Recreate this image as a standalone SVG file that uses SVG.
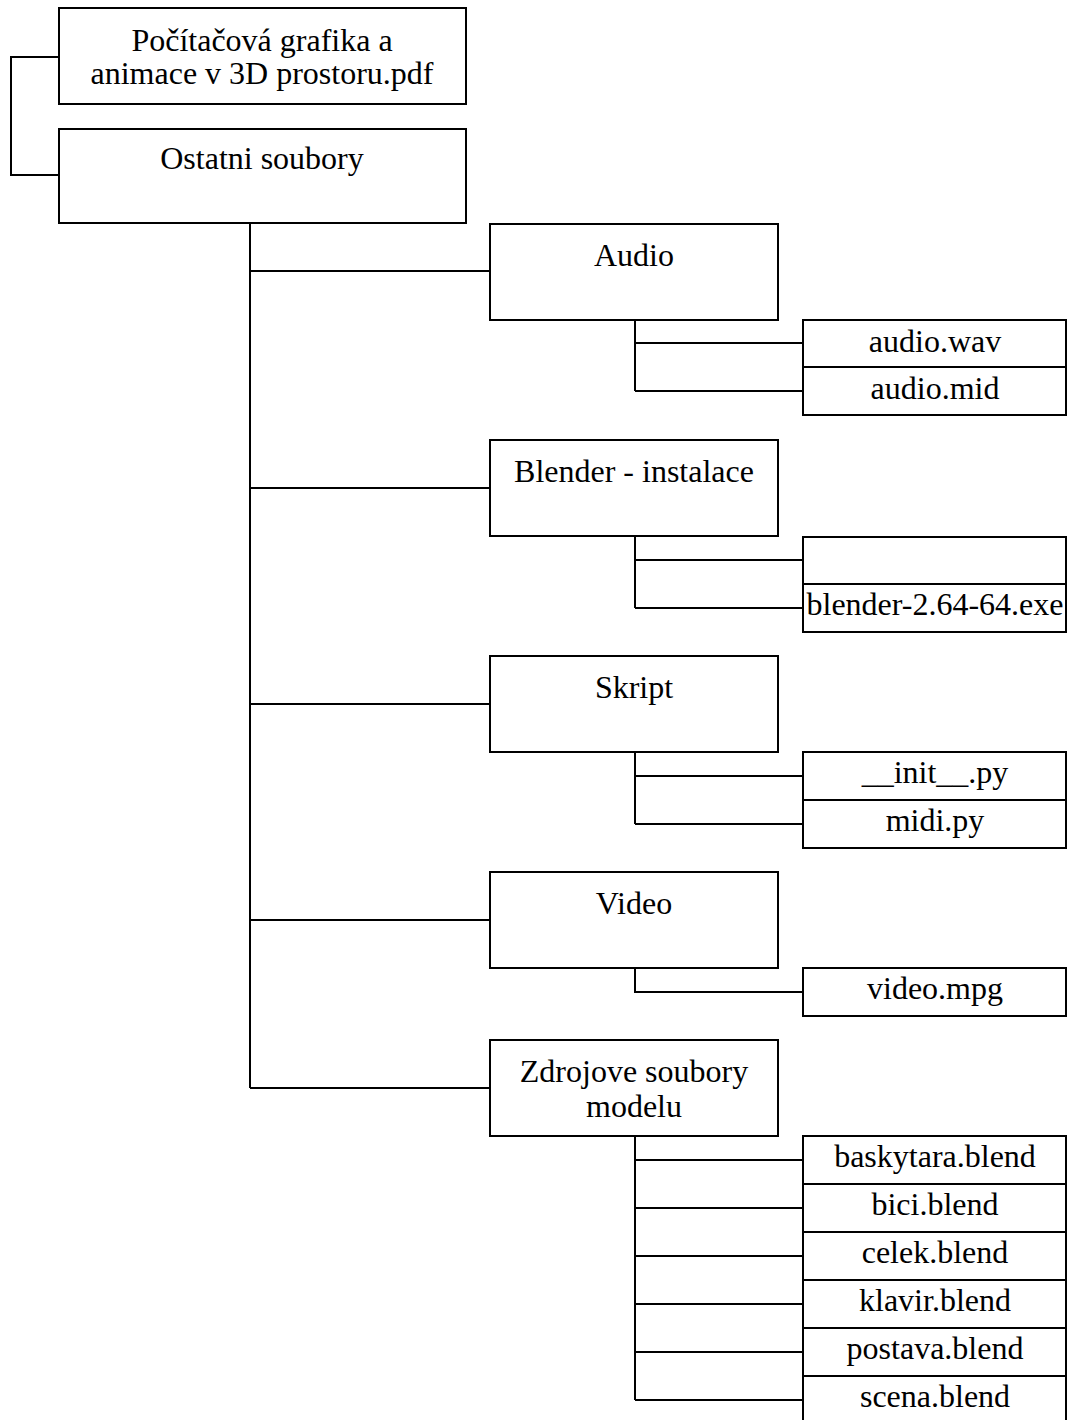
<svg xmlns="http://www.w3.org/2000/svg" width="1067" height="1420" viewBox="0 0 1067 1420">
<style>
.box{fill:#fff;stroke:#000;stroke-width:2}
.ln{fill:none;stroke:#000;stroke-width:2}
text{font-family:"Liberation Serif","Times New Roman",serif;font-size:32px;fill:#000;text-anchor:middle}
</style>
<rect width="1067" height="1420" fill="#fff"/>
<g id="connectors">
<path class="ln" d="M59,57 H11 V175 H59"/>
<path class="ln" d="M250,223 V1088 M250,271 H490 M250,488 H490 M250,704 H490 M250,920 H490 M250,1088 H490"/>
<path class="ln" d="M635,320 V391 M635,343 H803 M635,391 H803"/>
<path class="ln" d="M635,536 V608 M635,560 H803 M635,608 H803"/>
<path class="ln" d="M635,752 V824 M635,776 H803 M635,824 H803"/>
<path class="ln" d="M635,968 V992 H803"/>
<path class="ln" d="M635,1136 V1400 M635,1160 H803 M635,1208 H803 M635,1256 H803 M635,1304 H803 M635,1352 H803 M635,1400 H803"/>
</g>
<g id="node-pdf"><rect class="box" x="59" y="8" width="407" height="96"/><text x="262" y="51">Počítačová grafika a</text><text x="262" y="84">animace v 3D prostoru.pdf</text></g>
<g id="node-ostatni"><rect class="box" x="59" y="129" width="407" height="94"/><text x="262" y="169">Ostatni soubory</text></g>
<g id="node-audio"><rect class="box" x="490" y="224" width="288" height="96"/><text x="634" y="266">Audio</text></g>
<g id="node-audio-wav"><rect class="box" x="803" y="320" width="263" height="47"/><text x="935" y="352">audio.wav</text></g>
<g id="node-audio-mid"><rect class="box" x="803" y="367" width="263" height="48"/><text x="935" y="399">audio.mid</text></g>
<g id="node-blender"><rect class="box" x="490" y="440" width="288" height="96"/><text x="634" y="482">Blender - instalace</text></g>
<g id="node-blender-empty"><rect class="box" x="803" y="537" width="263" height="47"/></g>
<g id="node-blender-exe"><rect class="box" x="803" y="584" width="263" height="48"/><text x="935" y="615">blender-2.64-64.exe</text></g>
<g id="node-skript"><rect class="box" x="490" y="656" width="288" height="96"/><text x="634" y="698">Skript</text></g>
<g id="node-init"><rect class="box" x="803" y="752" width="263" height="48"/><text x="935" y="783">__init__.py</text></g>
<g id="node-midi"><rect class="box" x="803" y="800" width="263" height="48"/><text x="935" y="831">midi.py</text></g>
<g id="node-video"><rect class="box" x="490" y="872" width="288" height="96"/><text x="634" y="914">Video</text></g>
<g id="node-video-mpg"><rect class="box" x="803" y="968" width="263" height="48"/><text x="935" y="999">video.mpg</text></g>
<g id="node-zdrojove"><rect class="box" x="490" y="1040" width="288" height="96"/><text x="634" y="1082">Zdrojove soubory</text><text x="634" y="1117">modelu</text></g>
<g id="node-baskytara"><rect class="box" x="803" y="1136" width="263" height="48"/><text x="935" y="1167">baskytara.blend</text></g>
<g id="node-bici"><rect class="box" x="803" y="1184" width="263" height="48"/><text x="935" y="1215">bici.blend</text></g>
<g id="node-celek"><rect class="box" x="803" y="1232" width="263" height="48"/><text x="935" y="1263">celek.blend</text></g>
<g id="node-klavir"><rect class="box" x="803" y="1280" width="263" height="48"/><text x="935" y="1311">klavir.blend</text></g>
<g id="node-postava"><rect class="box" x="803" y="1328" width="263" height="48"/><text x="935" y="1359">postava.blend</text></g>
<g id="node-scena"><rect class="box" x="803" y="1376" width="263" height="52"/><text x="935" y="1407">scena.blend</text></g>
</svg>
